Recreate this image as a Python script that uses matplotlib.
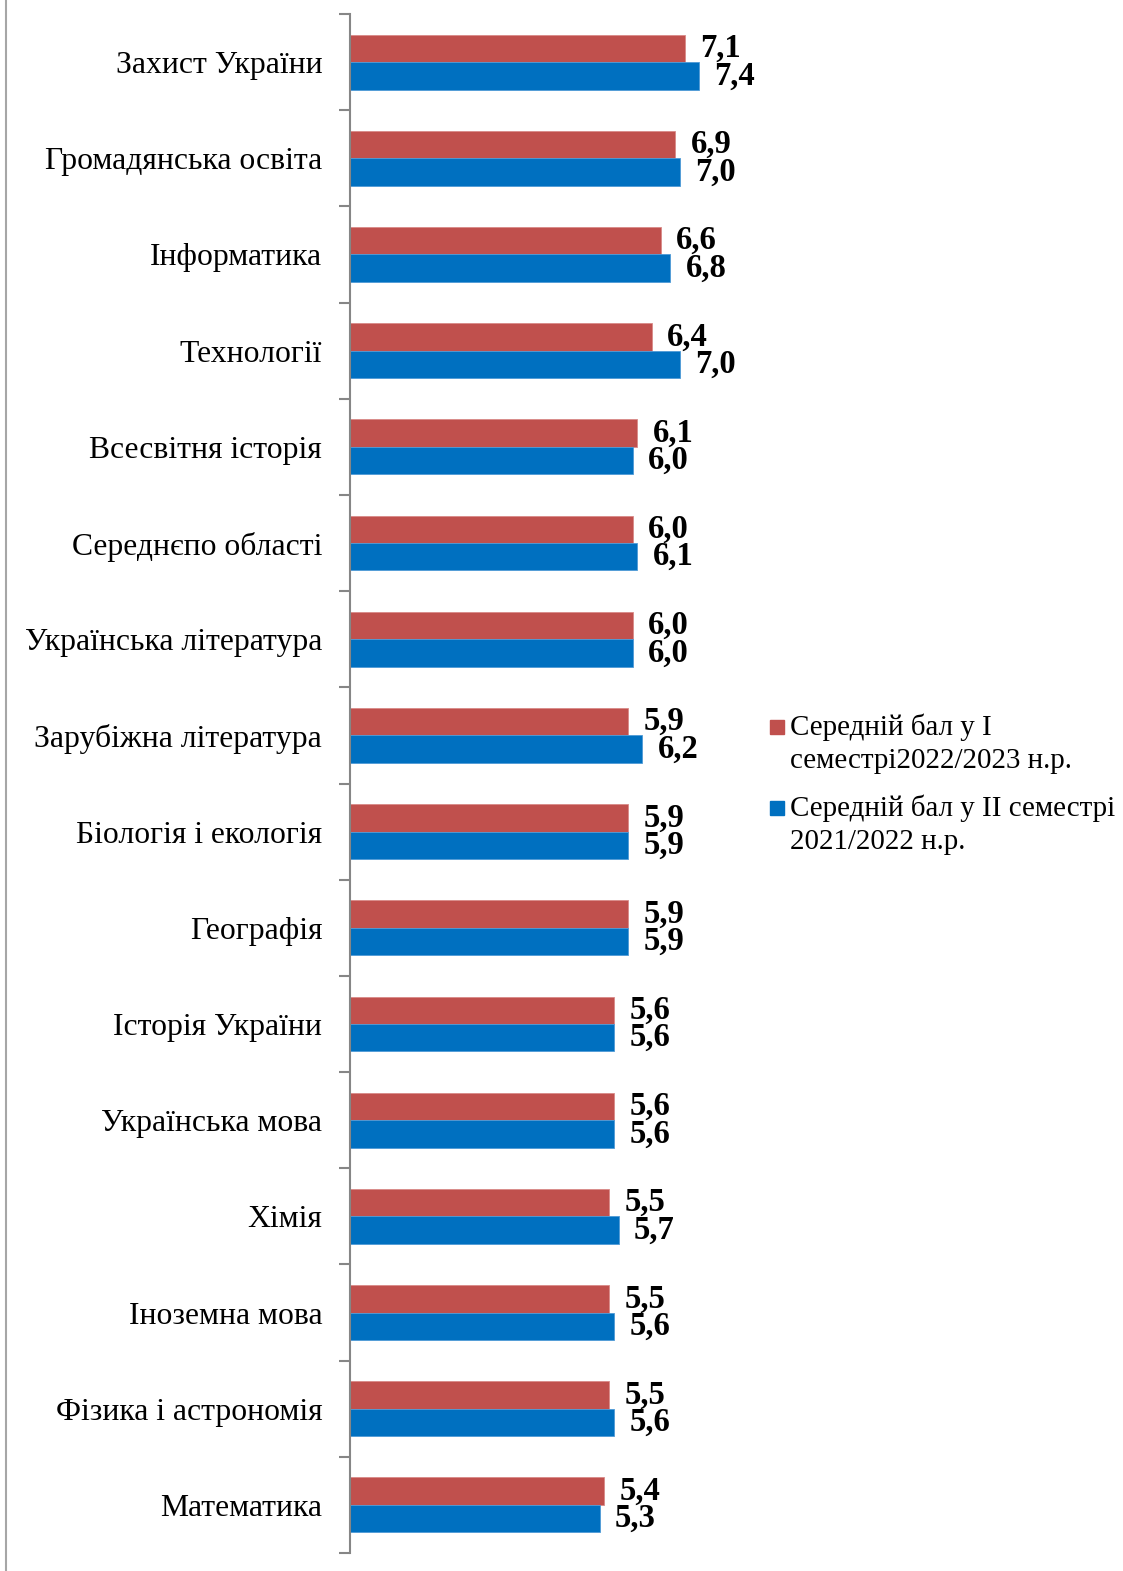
# Середній бал по предметах: I семестр 2022/2023 vs II семестр 2021/2022

import numpy as np
import matplotlib.pyplot as plt
from matplotlib.lines import Line2D
from matplotlib.patches import Rectangle

plt.rcParams['font.family'] = ['Liberation Serif', 'DejaVu Serif']

subjects = ['Захист України', 'Громадянська освіта', 'Інформатика', 'Технології',
            'Всесвітня історія', 'Середнєпо області', 'Українська література',
            'Зарубіжна література', 'Біологія і екологія', 'Географія',
            'Історія України', 'Українська мова', 'Хімія', 'Іноземна мова',
            'Фізика і астрономія', 'Математика']
sem1_2022 = [7.1, 6.9, 6.6, 6.4, 6.1, 6.0, 6.0, 5.9, 5.9, 5.9, 5.6, 5.6, 5.5, 5.5, 5.5, 5.4]
sem2_2021 = [7.4, 7.0, 6.8, 7.0, 6.0, 6.1, 6.0, 6.2, 5.9, 5.9, 5.6, 5.6, 5.7, 5.6, 5.6, 5.3]
legend_labels = ['Середній бал у І\nсеместрі2022/2023 н.р.',
                 'Середній бал у ІІ семестрі\n2021/2022 н.р.']

red = '#C0504D'
blue = '#0070C0'

W, H = 1123, 1571
fig = plt.figure(figsize=(W / 100, H / 100), dpi=100)
ax = fig.add_axes([350 / W, 1 - 1553 / H, 476 / W, (1553 - 14) / H])

n = len(subjects)
y = np.arange(n)[::-1]
h = 0.285
b1 = ax.barh(y + h / 2, sem1_2022, height=h, color=red, edgecolor='#D98A88', linewidth=0.6)
b2 = ax.barh(y - h / 2, sem2_2021, height=h, color=blue, edgecolor='#4F9AD6', linewidth=0.6)

for bars, vals in ((b1, sem1_2022), (b2, sem2_2021)):
    for bar, v in zip(bars, vals):
        ax.annotate(f'{v:.1f}'.replace('.', ','),
                    (bar.get_width(), bar.get_y() + bar.get_height() / 2),
                    xytext=(11, 0), textcoords='offset points',
                    ha='left', va='center', fontsize=23.5, fontweight='bold')

ax.set_xlim(0, 10.1)
ax.set_ylim(-0.5, n - 0.5)
ax.set_yticks(y)
ax.set_yticklabels(subjects, fontsize=22.8)
ax.tick_params(axis='y', which='major', length=0, pad=20)
ax.set_yticks(np.arange(n + 1) - 0.5, minor=True)
ax.tick_params(axis='y', which='minor', length=8, width=1.5, color='#868686')
ax.set_xticks([])
for s in ('top', 'right', 'bottom'):
    ax.spines[s].set_visible(False)
ax.spines['left'].set_color('#868686')
ax.spines['left'].set_linewidth(1.5)

# legend
for (col, lab, ytop) in ((red, legend_labels[0], 727), (blue, legend_labels[1], 808)):
    fig.add_artist(Rectangle((770 / W, 1 - (ytop + 7) / H), 14 / W, 14 / H,
                             transform=fig.transFigure, color=col))
    for i, line in enumerate(lab.split('\n')):
        fig.text(790 / W, 1 - (ytop + 34 * i) / H, line, fontsize=20.9,
                 ha='left', va='center')

# frame line on the left edge
fig.add_artist(Line2D([6 / W, 6 / W], [0, 1], transform=fig.transFigure,
                      color='#A6A6A6', linewidth=1.5))

plt.savefig('out.png', dpi=100)
